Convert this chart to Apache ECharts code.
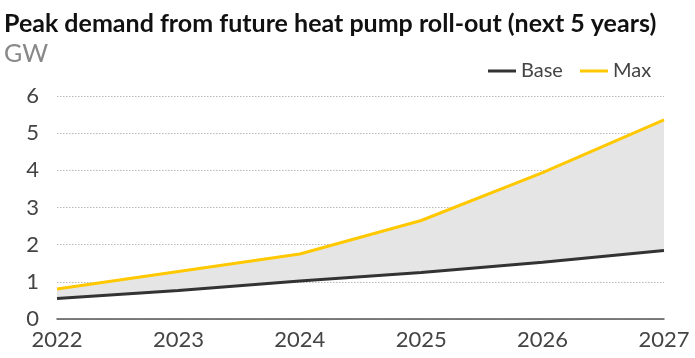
<!DOCTYPE html>
<html>
<head>
<meta charset="utf-8">
<script src="https://cdn.jsdelivr.net/npm/echarts@6/dist/echarts.min.js"></script>
<style>
  html, body { margin: 0; padding: 0; background: #fff; }
  #chart { width: 695px; height: 358px; }
</style>
</head>
<body>
<div id="chart"></div>
<script>
// Peak demand (GW) from heat pump roll-out, two scenarios
const years = ['2022', '2023', '2024', '2025', '2026', '2027'];
const baseValues = [0.55, 0.77, 1.02, 1.25, 1.53, 1.84];
const maxValues = [0.81, 1.28, 1.75, 2.65, 3.94, 5.36];
const yTicks = { min: 0, max: 6, interval: 1 };

// Height of the shaded range stacked on top of the Base line
const bandValues = maxValues.map((v, i) => +(v - baseValues[i]).toFixed(3));

const FONT = 'Lato, "Open Sans", sans-serif';
const chart = echarts.init(document.getElementById('chart'), null, { renderer: 'canvas' });

chart.setOption({
  animation: false,
  backgroundColor: '#ffffff',
  title: [
    {
      text: 'Peak demand from future heat pump roll-out (next 5 years)',
      left: -1, top: 6,
      textStyle: { fontFamily: FONT, fontSize: 25, fontWeight: 'bold', color: '#111111' }
    },
    {
      text: 'GW',
      left: -1, top: 36,
      textStyle: { fontFamily: FONT, fontSize: 25, fontWeight: 'normal', color: '#888888' }
    }
  ],
  legend: {
    left: 483, top: 56,
    icon: 'rect',
    itemWidth: 28, itemHeight: 3,
    itemGap: 17,
    textStyle: { fontFamily: FONT, fontSize: 20, color: '#444444', padding: [0, 0, 0, 0] },
    data: ['Base', 'Max']
  },
  grid: { left: 57, right: 31, top: 96, bottom: 39, containLabel: false },
  xAxis: {
    type: 'category',
    data: years,
    boundaryGap: false,
    axisLine: { show: true, lineStyle: { color: '#555555', width: 1.5 } },
    axisTick: { show: false },
    axisLabel: { fontFamily: FONT, fontSize: 22, color: '#444444', margin: 10 },
    splitLine: { show: false }
  },
  yAxis: {
    type: 'value',
    min: yTicks.min, max: yTicks.max, interval: yTicks.interval,
    axisLine: { show: false },
    axisTick: { show: false },
    axisLabel: { fontFamily: FONT, fontSize: 22, color: '#444444', margin: 18 },
    splitLine: { show: true, lineStyle: { color: '#b8b8b8', type: [1.5, 1.5], width: 1 } }
  },
  series: [
    {
      name: 'Base',
      type: 'line',
      stack: 'range',
      data: baseValues,
      symbol: 'none',
      z: 4,
      lineStyle: { color: '#333333', width: 3 },
      itemStyle: { color: '#333333' }
    },
    {
      name: 'Range',
      type: 'line',
      stack: 'range',
      data: bandValues,
      symbol: 'none',
      z: 2,
      lineStyle: { width: 0, opacity: 0 },
      areaStyle: { color: '#e5e5e5', opacity: 1 },
      itemStyle: { color: '#e5e5e5' }
    },
    {
      name: 'Max',
      type: 'line',
      data: maxValues,
      symbol: 'none',
      z: 5,
      lineStyle: { color: '#ffc800', width: 3 },
      itemStyle: { color: '#ffc800' }
    }
  ]
});
</script>
</body>
</html>
